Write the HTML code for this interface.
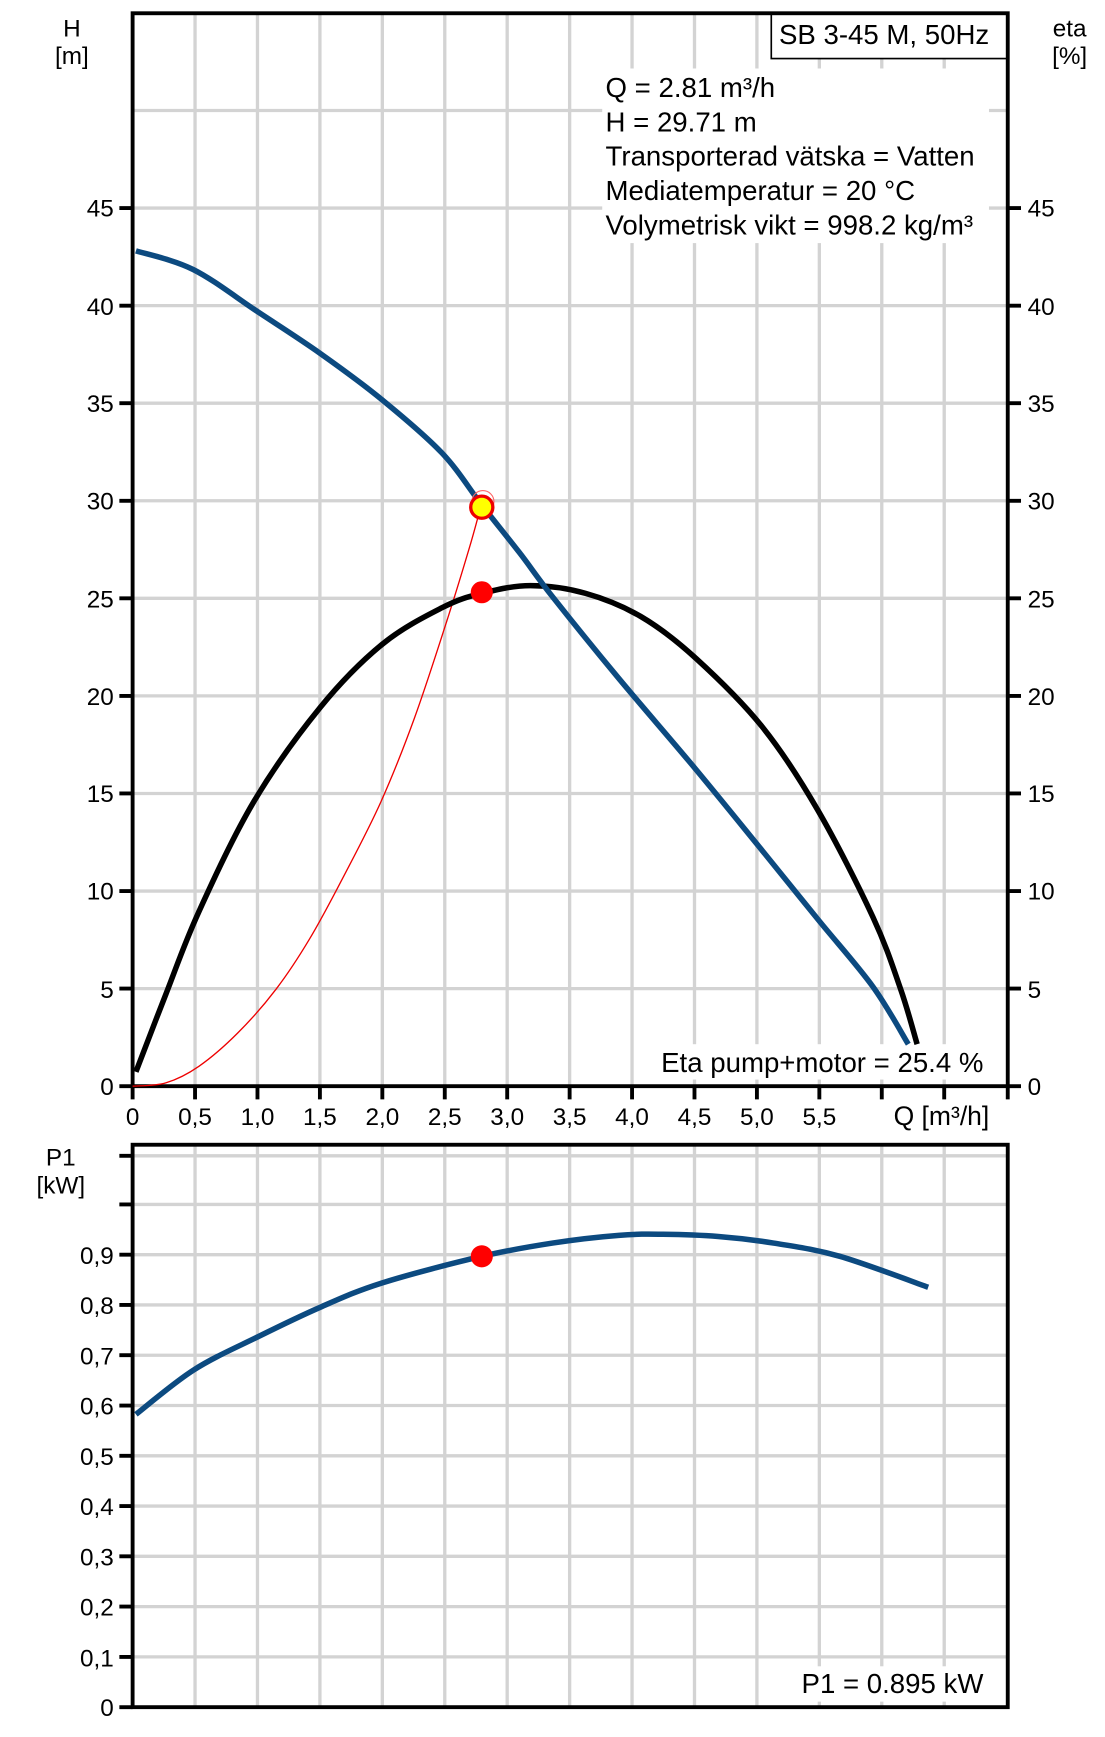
<!DOCTYPE html>
<html><head><meta charset="utf-8"><style>
html,body{margin:0;padding:0;background:#fff;}
svg{display:block;}
text{font-family:"Liberation Sans",sans-serif;font-size:22px;fill:#000;}
.big{font-size:25px;}
</style></head><body>
<svg width="1105" height="1737" viewBox="0 0 1000 1572" xmlns="http://www.w3.org/2000/svg">
<g stroke="#d3d3d3" stroke-width="3">
<path d="M176.5 12V983M233 12V983M289.5 12V983M346 12V983M402.5 12V983M459 12V983M515.5 12V983M572 12V983M628.5 12V983M685 12V983M741.5 12V983M798 12V983M854.5 12V983"/>
<path d="M120 894.7H912M120 806.4H912M120 718.1H912M120 629.8H912M120 541.5H912M120 453.2H912M120 364.9H912M120 276.6H912M120 188.3H912M120 100H912"/>
<path d="M176.5 1036V1545M233 1036V1545M289.5 1036V1545M346 1036V1545M402.5 1036V1545M459 1036V1545M515.5 1036V1545M572 1036V1545M628.5 1036V1545M685 1036V1545M741.5 1036V1545M798 1036V1545M854.5 1036V1545"/>
<path d="M120 1499.5H912M120 1454H912M120 1408.5H912M120 1363H912M120 1317.5H912M120 1272H912M120 1226.5H912M120 1181H912M120 1135.5H912M120 1090H912M120 1046H912"/>
</g>
<rect x="545" y="62" width="350" height="158" fill="#fff"/>
<rect x="698" y="12" width="214" height="41" fill="#fff" stroke="#000" stroke-width="1.5"/>
<rect x="590" y="945" width="305" height="32" fill="#fff"/>
<rect x="720" y="1508" width="175" height="32" fill="#fff"/>
<g stroke="#000" stroke-width="3.5" fill="none">
<rect x="120" y="12" width="792" height="971"/>
<rect x="120" y="1036" width="792" height="509"/>
<path d="M108 983H120M108 894.7H120M108 806.4H120M108 718.1H120M108 629.8H120M108 541.5H120M108 453.2H120M108 364.9H120M108 276.6H120M108 188.3H120"/>
<path d="M912 983H924M912 894.7H924M912 806.4H924M912 718.1H924M912 629.8H924M912 541.5H924M912 453.2H924M912 364.9H924M912 276.6H924M912 188.3H924"/>
<path d="M120 983V995M176.5 983V995M233 983V995M289.5 983V995M346 983V995M402.5 983V995M459 983V995M515.5 983V995M572 983V995M628.5 983V995M685 983V995M741.5 983V995M798 983V995M854.5 983V995M912 983V995"/>
<path d="M108 1545H120M108 1499.5H120M108 1454H120M108 1408.5H120M108 1363H120M108 1317.5H120M108 1272H120M108 1226.5H120M108 1181H120M108 1135.5H120M108 1090H120M108 1046H120"/>
</g>
<path id="c1" fill="none" stroke="#e00" stroke-width="1.2" data-p="120,983 150,980 180,965 215,935 250,895 280,850 310,795 345,725 375,650 405,560 425,495 436,455"/>
<path id="c2" fill="none" stroke="#000" stroke-width="5" stroke-linejoin="round" data-p="123,970 150,900 180,825 230,725 290,640 346,583 400,550 436,537 480,530 530,537 580,558 630,596 690,658 740,733 790,830 815,895 830,945"/>
<path id="c3" fill="none" stroke="#0c4a80" stroke-width="5" stroke-linejoin="round" data-p="123,227 175,244 233,282 290,320 346,362 400,410 436,457 470,500 500,540 560,614 627,693 690,770 741,833 790,893 822,945"/>
<path id="c4" fill="none" stroke="#0c4a80" stroke-width="5" stroke-linejoin="round" data-p="123,1280 175,1240 233,1210 290,1183 346,1161 436,1137 500,1125 560,1118 600,1117 650,1119 700,1125 760,1137 840,1165"/>
<circle cx="437" cy="454" r="10" fill="none" stroke="#f66" stroke-width="1"/>
<circle cx="436" cy="459" r="10" fill="#ff0" stroke="#e00" stroke-width="3"/>
<circle cx="436" cy="536" r="10" fill="#f00"/>
<circle cx="436" cy="1137" r="10" fill="#f00"/>
<text class="big" x="705" y="40">SB 3-45 M, 50Hz</text>
<text class="big" x="548" y="88">Q = 2.81 m³/h</text>
<text class="big" x="548" y="119">H = 29.71 m</text>
<text class="big" x="548" y="150">Transporterad vätska = Vatten</text>
<text class="big" x="548" y="181">Mediatemperatur = 20 °C</text>
<text class="big" x="548" y="212">Volymetrisk vikt = 998.2 kg/m³</text>
<text class="big" x="890" y="970" text-anchor="end">Eta pump+motor = 25.4 %</text>
<text class="big" x="890" y="1532" text-anchor="end">P1 = 0.895 kW</text>
<g text-anchor="middle">
<text x="65" y="33">H</text><text x="65" y="58">[m]</text>
<text x="968" y="33">eta</text><text x="968" y="58">[%]</text>
<text x="55" y="1055">P1</text><text x="55" y="1080">[kW]</text>
</g>
<g text-anchor="end">
<text x="103" y="991">0</text><text x="103" y="903">5</text><text x="103" y="814">10</text><text x="103" y="726">15</text><text x="103" y="638">20</text><text x="103" y="550">25</text><text x="103" y="461">30</text><text x="103" y="373">35</text><text x="103" y="285">40</text><text x="103" y="196">45</text>
<text x="103" y="1553">0</text><text x="103" y="1508">0,1</text><text x="103" y="1462">0,2</text><text x="103" y="1417">0,3</text><text x="103" y="1371">0,4</text><text x="103" y="1326">0,5</text><text x="103" y="1280">0,6</text><text x="103" y="1235">0,7</text><text x="103" y="1189">0,8</text><text x="103" y="1144">0,9</text>
</g>
<g>
<text x="930" y="991">0</text><text x="930" y="903">5</text><text x="930" y="814">10</text><text x="930" y="726">15</text><text x="930" y="638">20</text><text x="930" y="550">25</text><text x="930" y="461">30</text><text x="930" y="373">35</text><text x="930" y="285">40</text><text x="930" y="196">45</text>
</g>
<g text-anchor="middle">
<text x="120" y="1018">0</text><text x="176.5" y="1018">0,5</text><text x="233" y="1018">1,0</text><text x="289.5" y="1018">1,5</text><text x="346" y="1018">2,0</text><text x="402.5" y="1018">2,5</text><text x="459" y="1018">3,0</text><text x="515.5" y="1018">3,5</text><text x="572" y="1018">4,0</text><text x="628.5" y="1018">4,5</text><text x="685" y="1018">5,0</text><text x="741.5" y="1018">5,5</text>
<text x="852" y="1018" style="font-size:24px">Q [m³/h]</text>
</g>
</svg>
<script>
document.querySelectorAll('path[data-p]').forEach(function(el){
  var p=el.getAttribute('data-p').trim().split(/\s+/).map(function(s){return s.split(',').map(Number);});
  var d='M'+p[0][0]+' '+p[0][1];
  for(var i=0;i<p.length-1;i++){
    var p0=p[i-1]||p[i],p1=p[i],p2=p[i+1],p3=p[i+2]||p2;
    var c1x=p1[0]+(p2[0]-p0[0])/6,c1y=p1[1]+(p2[1]-p0[1])/6;
    var c2x=p2[0]-(p3[0]-p1[0])/6,c2y=p2[1]-(p3[1]-p1[1])/6;
    d+=' C'+c1x.toFixed(1)+' '+c1y.toFixed(1)+' '+c2x.toFixed(1)+' '+c2y.toFixed(1)+' '+p2[0]+' '+p2[1];
  }
  el.setAttribute('d',d);
});
</script>
</body></html>
